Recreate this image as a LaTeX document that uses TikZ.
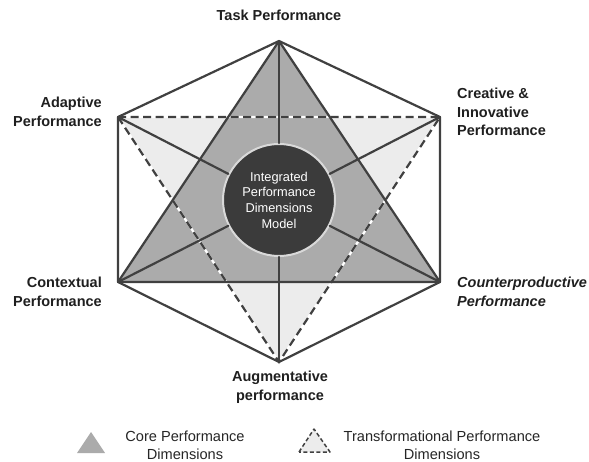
\documentclass[tikz,border=0pt]{standalone}
\usepackage{fontspec}
\setmainfont{Liberation Sans}
\definecolor{linedark}{HTML}{404040}
\definecolor{corefill}{HTML}{ABABAB}
\definecolor{lightfill}{HTML}{ECECEC}
\definecolor{hubfill}{HTML}{3B3B3B}
\definecolor{hubrim}{HTML}{D9D9D9}
\begin{document}
\begin{tikzpicture}[x=1pt,y=-1pt,
  edge/.style={draw=linedark, line width=2.2pt, line join=round, line cap=round},
  dashedge/.style={draw=linedark, line width=2.2pt, dash pattern=on 8pt off 4.5pt},
  gapline/.style={draw=white, line width=2.2pt},
  label/.style={font=\bfseries\fontsize{14.5}{18.5}\selectfont, inner sep=0pt, text=black!88},
  hub/.style={circle, fill=hubfill, draw=hubrim, line width=2pt, minimum size=112pt,
    inner sep=0pt, align=center, text=white, font=\fontsize{12.8}{15.7}\selectfont},
  legendtext/.style={font=\fontsize{14.6}{18}\selectfont, inner sep=0pt, align=center, text=black!85}]
\useasboundingbox (0,0) rectangle (589,462);

% corners of the hexagon
\coordinate (T) at (279,41);
\coordinate (A) at (118,117);
\coordinate (C) at (440,117);
\coordinate (X) at (118,282);
\coordinate (P) at (440,282);
\coordinate (B) at (279,362);

% transformational triangle, then core triangle on top
\fill[lightfill] (A) -- (C) -- (B) -- cycle;
\fill[corefill] (T) -- (X) -- (P) -- cycle;

% dashed outline of the transformational triangle
\draw[gapline] (A) -- (C) -- (B) -- cycle;
\draw[dashedge] (A) -- (C) -- (B) -- cycle;

% core triangle and hexagon outlines
\draw[edge] (T) -- (X) -- (P) -- cycle;
\draw[edge] (T) -- (C) -- (P) -- (B) -- (X) -- (A) -- cycle;

% central hub
\node[hub] (hub) at (279,200) {Integrated\\Performance\\Dimensions\\Model};

% spokes from every corner to the hub
\foreach \v in {T,A,C,X,P,B} \draw[edge] (\v) -- (hub);

% corner labels
\node[label] (task) at (279,15) {Task Performance};
\node[label, anchor=east, align=right] (adapt) at (102,112) {Adaptive\\Performance};
\node[label, anchor=west, align=left] (creat) at (457,112) {Creative \&\\Innovative\\Performance};
\node[label, anchor=east, align=right] (context) at (102,292) {Contextual\\Performance};
\node[label, anchor=west, align=left, font=\bfseries\itshape\fontsize{14.5}{18.5}\selectfont] (counter) at (457,292) {Counterproductive\\Performance};
\node[label, align=center] (augment) at (280,387) {Augmentative\\performance};

% legend
\fill[corefill] (77,453) -- (91,432) -- (105,453) -- cycle;
\node[legendtext] (corelegend) at (185,445) {Core Performance\\Dimensions};
\filldraw[fill=lightfill, draw=linedark, line width=1.5pt, dash pattern=on 4pt off 2.5pt, line join=round]
  (299,452) -- (314,429) -- (330,452) -- cycle;
\node[legendtext] (translegend) at (442,445) {Transformational Performance\\Dimensions};
\end{tikzpicture}
\end{document}
